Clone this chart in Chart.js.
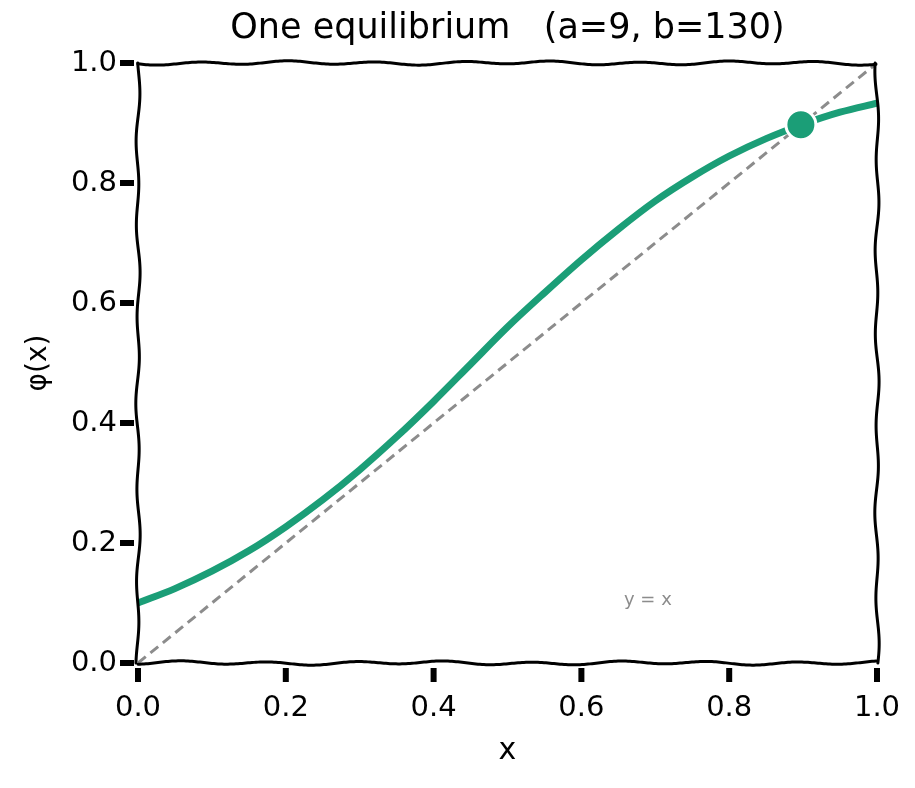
<!DOCTYPE html>
<html>
<head>
<meta charset="utf-8">
<script src="https://cdn.jsdelivr.net/npm/chart.js@4.4.1/dist/chart.umd.min.js"></script>
<style>
  html, body { margin: 0; padding: 0; background: #ffffff; }
  #wrap { width: 915px; height: 788px; }
</style>
</head>
<body>
<div id="wrap"><canvas id="c" width="915" height="788"></canvas></div>
<script>
// ---- data ----
const xValues   = [0.00, 0.05, 0.10, 0.15, 0.20, 0.25, 0.30, 0.35, 0.40, 0.45, 0.50,
                   0.55, 0.60, 0.65, 0.70, 0.75, 0.80, 0.85, 0.90, 0.95, 1.00];
const phiValues = [0.100, 0.124, 0.153, 0.187, 0.227, 0.272, 0.322, 0.377, 0.436, 0.498, 0.560,
                   0.617, 0.672, 0.723, 0.770, 0.810, 0.845, 0.874, 0.898, 0.918, 0.933];
const diagX = [0, 1];
const diagY = [0, 1];
const equilibriumX = [0.897];
const equilibriumY = [0.897];
const tickValues = [0.0, 0.2, 0.4, 0.6, 0.8, 1.0];
const titleText = 'One equilibrium   (a=9, b=130)';
const annotationText = 'y = x';
const annotationAt = { x: 0.69, y: 0.105 };

const FONT = '"DejaVu Sans", "Open Sans", sans-serif';
const GREEN = '#1b9e77';
const GREY = '#8c8c8c';

const phiData = xValues.map((x, i) => ({ x: x, y: phiValues[i] }));
const diagData = diagX.map((x, i) => ({ x: x, y: diagY[i] }));
const eqData = equilibriumX.map((x, i) => ({ x: x, y: equilibriumY[i] }));

// hand-drawn looking frame, tick marks and annotation
const wobblyFrame = {
  id: 'wobblyFrame',
  afterDatasetsDraw(chart) {
    const { ctx, chartArea: a } = chart;
    const xs = chart.scales.x, ys = chart.scales.y;
    ctx.save();
    ctx.strokeStyle = '#000';
    ctx.lineWidth = 3;
    ctx.lineCap = 'round';
    ctx.lineJoin = 'round';
    const edge = (x0, y0, x1, y1, phase) => {
      const len = Math.hypot(x1 - x0, y1 - y0);
      const nx = -(y1 - y0) / len, ny = (x1 - x0) / len;
      ctx.beginPath();
      for (let s = 0; s <= len; s += 2) {
        const t = s / len;
        const w = 1.5 * Math.sin(s / 14 + phase) + 0.7 * Math.sin(s / 37 + phase * 2);
        const px = x0 + (x1 - x0) * t + nx * w;
        const py = y0 + (y1 - y0) * t + ny * w;
        if (s === 0) ctx.moveTo(px, py); else ctx.lineTo(px, py);
      }
      ctx.stroke();
    };
    edge(a.left, a.top, a.right, a.top, 0.3);
    edge(a.left, a.bottom, a.right, a.bottom, 1.7);
    edge(a.left, a.top, a.left, a.bottom, 2.4);
    edge(a.right, a.top, a.right, a.bottom, 0.9);

    // tick marks (thick, slightly detached from the frame)
    ctx.fillStyle = '#000';
    tickValues.forEach(v => {
      const px = xs.getPixelForValue(v);
      ctx.fillRect(px - 3, a.bottom + 5, 6, 14);
      const py = ys.getPixelForValue(v);
      ctx.fillRect(a.left - 18, py - 3, 14, 6);
    });

    // annotation text
    ctx.fillStyle = GREY;
    ctx.font = '18px ' + FONT;
    ctx.textAlign = 'center';
    ctx.textBaseline = 'middle';
    ctx.fillText(annotationText, xs.getPixelForValue(annotationAt.x), ys.getPixelForValue(annotationAt.y));
    ctx.restore();
  }
};

const tickCb = v => Number(v).toFixed(1);

new Chart(document.getElementById('c'), {
  type: 'line',
  data: {
    datasets: [
      {
        type: 'scatter',
        data: eqData,
        pointRadius: 15,
        pointHoverRadius: 15,
        backgroundColor: GREEN,
        borderColor: '#ffffff',
        borderWidth: 3,
        order: 0
      },
      {
        data: phiData,
        borderColor: GREEN,
        borderWidth: 7,
        cubicInterpolationMode: 'monotone',
        pointRadius: 0,
        fill: false,
        order: 1
      },
      {
        data: diagData,
        borderColor: GREY,
        borderWidth: 3,
        borderDash: [10, 6],
        pointRadius: 0,
        fill: false,
        order: 2
      }
    ]
  },
  options: {
    responsive: false,
    animation: false,
    devicePixelRatio: 1,
    layout: { padding: { left: 0, right: 38, top: 0, bottom: 0 } },
    plugins: {
      legend: { display: false },
      tooltip: { enabled: false },
      title: {
        display: true,
        fullSize: false,
        text: titleText,
        color: '#000',
        font: { family: FONT, size: 35, weight: 'normal' },
        padding: { top: 8, bottom: 13 }
      }
    },
    scales: {
      x: {
        type: 'linear',
        min: 0, max: 1,
        afterFit: s => { s.height = 125; s.paddingLeft = 0; s.paddingRight = 0; },
        afterBuildTicks: s => { s.ticks = tickValues.map(v => ({ value: v })); },
        ticks: { callback: tickCb, color: '#000', font: { family: FONT, size: 29 }, padding: 28, maxRotation: 0 },
        grid: { display: false, drawOnChartArea: false, drawTicks: false },
        border: { display: false },
        title: { display: true, text: 'x', color: '#000', font: { family: FONT, size: 30 }, padding: { top: 0, bottom: 19 } }
      },
      y: {
        type: 'linear',
        min: 0, max: 1,
        afterFit: s => { s.width = 138; s.paddingTop = 0; s.paddingBottom = 0; },
        afterBuildTicks: s => { s.ticks = tickValues.map(v => ({ value: v })); },
        ticks: { callback: tickCb, color: '#000', font: { family: FONT, size: 29 }, padding: 21 },
        grid: { display: false, drawOnChartArea: false, drawTicks: false },
        border: { display: false },
        title: { display: true, text: 'φ(x)', color: '#000', font: { family: FONT, size: 28 }, padding: { top: 22, bottom: 0 } }
      }
    }
  },
  plugins: [wobblyFrame]
});
</script>
</body>
</html>
